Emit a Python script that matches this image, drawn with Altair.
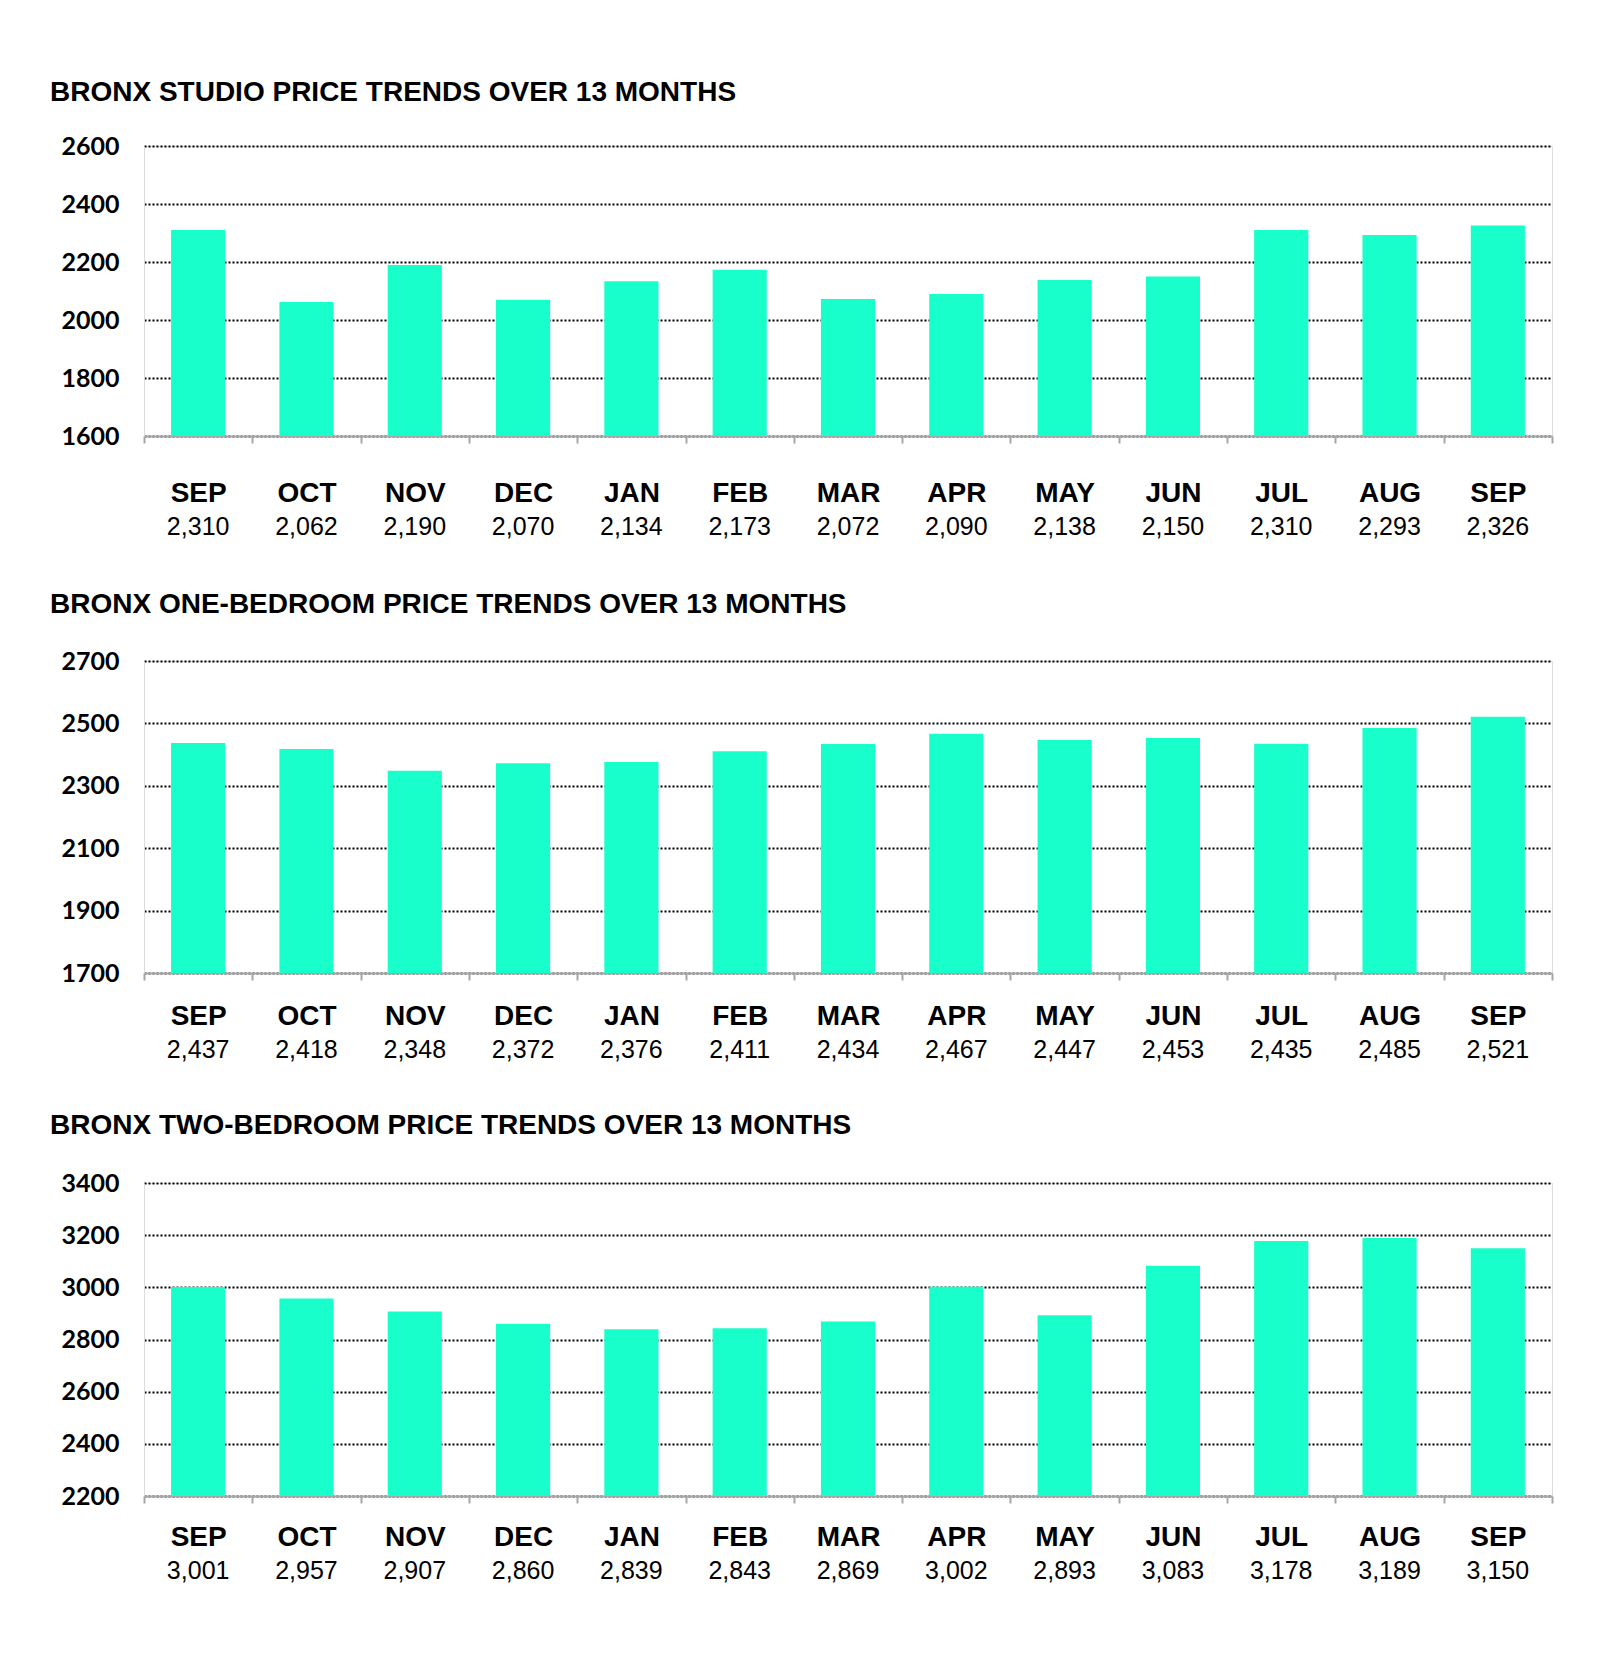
import altair as alt
import pandas as pd

months = ["SEP", "OCT", "NOV", "DEC", "JAN", "FEB", "MAR", "APR", "MAY", "JUN", "JUL", "AUG", "SEP"]
studio = [2310, 2062, 2190, 2070, 2134, 2173, 2072, 2090, 2138, 2150, 2310, 2293, 2326]
one_bed = [2437, 2418, 2348, 2372, 2376, 2411, 2434, 2467, 2447, 2453, 2435, 2485, 2521]
two_bed = [3001, 2957, 2907, 2860, 2839, 2843, 2869, 3002, 2893, 3083, 3178, 3189, 3150]

titles = [
    "BRONX STUDIO PRICE TRENDS OVER 13 MONTHS",
    "BRONX ONE-BEDROOM PRICE TRENDS OVER 13 MONTHS",
    "BRONX TWO-BEDROOM PRICE TRENDS OVER 13 MONTHS",
]
series = [studio, one_bed, two_bed]
y_ticks = [
    [1600, 1800, 2000, 2200, 2400, 2600],
    [1700, 1900, 2100, 2300, 2500, 2700],
    [2200, 2400, 2600, 2800, 3000, 3200, 3400],
]

# layout (pixels)
heights = [290, 312, 313]
month_off = [57, 43, 41]
value_off = [91, 77, 75]
title_off = [27, 30, 31]
WIDTH = 1408
BAR = "#19FFCC"
FONT = "Liberation Sans"

label_expr = "[" + ",".join(f"'{m}'" for m in months) + "][datum.value]"


def panel(i):
    df = pd.DataFrame({"idx": list(range(len(months))), "price": series[i]})
    lo, hi = y_ticks[i][0], y_ticks[i][-1]
    H = heights[i]
    x = alt.X(
        "idx:O",
        title=None,
        scale=alt.Scale(paddingInner=0, paddingOuter=0),
        axis=alt.Axis(
            labelExpr=label_expr,
            labelAngle=0,
            labelFont=FONT,
            labelFontSize=28,
            labelFontWeight="bold",
            labelColor="black",
            labelBaseline="middle",
            labelPadding=month_off[i] - 7,
            tickBand="extent",
            tickSize=7,
            tickColor="#a6a6a6",
            tickWidth=2,
            domainColor="#a6a6a6",
            domainWidth=2,
            grid=False,
        ),
    )
    y = alt.Y(
        "price:Q",
        title=None,
        scale=alt.Scale(domain=[lo, hi], nice=False, zero=False),
        axis=alt.Axis(
            values=y_ticks[i],
            format="d",
            labelFont="Lato",
            labelFontSize=25,
            labelFontWeight="bold",
            labelColor="black",
            labelPadding=25,
            ticks=False,
            domainColor="#dcdcdc",
            domainWidth=1,
            gridColor="black",
            gridDash=[2, 2],
            gridWidth=2,
            minExtent=84,
            maxExtent=84,
        ),
    )
    bars = alt.Chart(df).mark_bar(color=BAR, width=alt.RelativeBandSize(0.5)).encode(
        x=x, y=y, y2=alt.datum(lo)
    )
    vals = alt.Chart(df).mark_text(
        font=FONT, fontSize=25, baseline="middle", align="center", color="black"
    ).encode(
        x=alt.X("idx:O"),
        y=alt.value(H + value_off[i]),
        text=alt.Text("price:Q", format=","),
    )
    return alt.layer(bars, vals).properties(
        width=WIDTH,
        height=H,
        title=alt.TitleParams(
            titles[i],
            anchor="start",
            font=FONT,
            fontSize=28,
            fontWeight="bold",
            color="black",
            offset=title_off[i],
            dx=-10,
        ),
    )


chart = (
    alt.vconcat(alt.vconcat(panel(0), panel(1), spacing=49), panel(2), spacing=47)
    .properties(padding={"left": 41, "top": 70, "right": 10, "bottom": 10})
    .configure_view(stroke="#e6e6e6", strokeWidth=1)
    .configure(background="white")
)

chart.save("out.html", embed_options={"renderer": "svg", "actions": False})
